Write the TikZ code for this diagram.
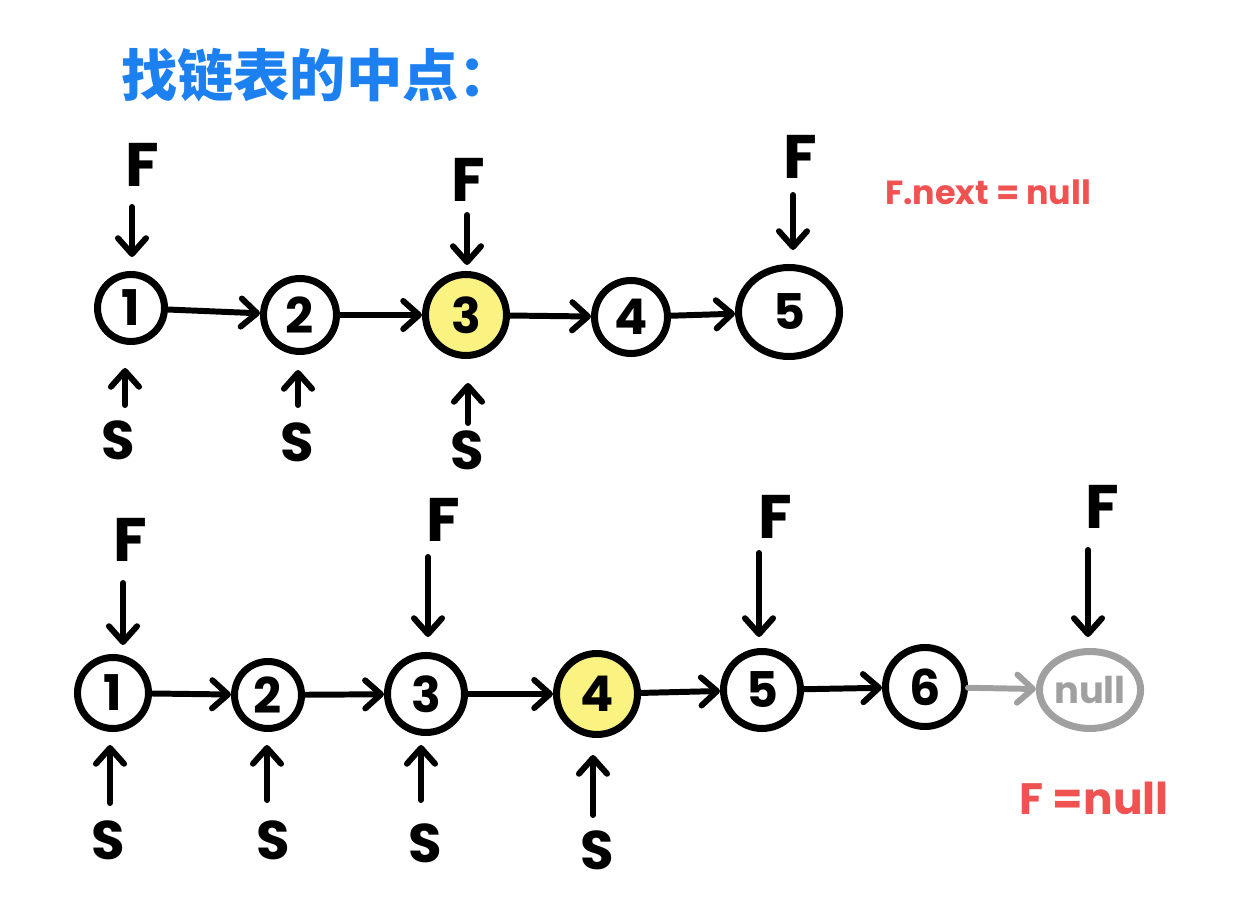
\documentclass[tikz,border=0pt]{standalone}
\usepackage{fontspec}
\setmainfont{Poppins}
\newfontfamily\cjk{Noto Sans CJK SC}
\usetikzlibrary{arrows.meta,shapes.geometric}
\definecolor{ttl}{RGB}{28,128,240}
\definecolor{rd}{RGB}{240,82,82}
\definecolor{hl}{RGB}{250,243,130}
\definecolor{gr}{RGB}{160,160,160}
\tikzset{
  nd/.style={circle,draw,line width=4pt,inner sep=0pt,font=\bfseries\fontsize{28}{28}\selectfont},
  ov/.style={ellipse,draw,line width=4pt,inner sep=0pt,font=\bfseries\fontsize{28}{28}\selectfont},
  hi/.style={fill=hl},
  lnk/.style={line width=3.4pt,line cap=round,-{Straight Barb[round,length=9pt,width=16pt,line width=3.4pt]}},
  ptr/.style={lnk,shorten >=#1},
  ptr/.default=0.24cm,
  flab/.style={font=\bfseries\fontsize{35}{35}\selectfont},
  slab/.style={font=\bfseries\fontsize{31}{31}\selectfont},
  note/.style={text=rd,font=\bfseries\fontsize{#1}{#1}\selectfont},
}
\begin{document}
\begin{tikzpicture}[x=0.02cm,y=-0.02cm]
\useasboundingbox (0,0) rectangle (1248,901);

% title
\node[text=ttl,font=\cjk\bfseries\fontsize{32}{32}\selectfont] (title) at (318,75) {找链表的中点：};

% ---------- row 1 ----------
\node[nd,minimum size=1.34cm] (a1) at (131,308) {1};
\node[nd,minimum size=1.46cm] (a2) at (300,315) {2};
\node[nd,hi,minimum size=1.62cm] (a3) at (466,315) {3};
\node[nd,minimum size=1.46cm] (a4) at (631,317) {4};
\node[ov,minimum width=2.02cm,minimum height=1.78cm] (a5) at (789,312) {5};

\draw[lnk] (a1) -- (a2);
\draw[lnk] (a2) -- (a3);
\draw[lnk] (a3) -- (a4);
\draw[lnk] (a4) -- (a5);

\node[flab] (fA1) at (142,165) {F};
\node[flab] (fA3) at (468,180) {F};
\node[flab] (fA5) at (800,157) {F};
\coordinate (pA1) at (132,207);
\coordinate (pA3) at (467,215);
\coordinate (pA5) at (793,195);
\draw[ptr=0.28cm] (pA1) -- (pA1 |- a1.north);
\draw[ptr=0.12cm] (pA3) -- (pA3 |- a3.north);
\draw[ptr=0.28cm] (pA5) -- (pA5 |- a5.north);

\node[slab] (sA1) at (118,440) {S};
\node[slab] (sA2) at (297,442) {S};
\node[slab] (sA3) at (467,450) {S};
\coordinate (qA1) at (125,405);
\coordinate (qA2) at (298,405);
\coordinate (qA3) at (468,423);
\draw[ptr=0.46cm] (qA1) -- (qA1 |- a1.south);
\draw[ptr=0.30cm] (qA2) -- (qA2 |- a2.south);
\draw[ptr=0.48cm] (qA3) -- (qA3 |- a3.south);

\node[note=19] (n1) at (988,192) {F.next = null};

% ---------- row 2 ----------
\node[nd,minimum size=1.42cm] (b1) at (113,693) {1};
\node[nd,minimum size=1.34cm] (b2) at (268,695) {2};
\node[nd,minimum size=1.54cm] (b3) at (426,694) {3};
\node[nd,hi,minimum size=1.62cm] (b4) at (597,694) {4};
\node[nd,minimum size=1.54cm] (b5) at (762,690) {5};
\node[nd,minimum size=1.58cm] (b6) at (925,687) {6};
\node[ov,draw=gr,text=gr,minimum width=1.78cm,minimum height=1.54cm,font=\bfseries\fontsize{21}{21}\selectfont] (bn) at (1090,690) {null};

\draw[lnk] (b1) -- (b2);
\draw[lnk] (b2) -- (b3);
\draw[lnk] (b3) -- (b4);
\draw[lnk] (b4) -- (b5);
\draw[lnk] (b5) -- (b6);
\draw[lnk,draw=gr] (b6) -- (bn);

\node[flab] (fB1) at (130,540) {F};
\node[flab] (fB3) at (443,520) {F};
\node[flab] (fB5) at (775,517) {F};
\node[flab] (fBn) at (1102,507) {F};
\coordinate (pB1) at (123,583);
\coordinate (pB3) at (428,557);
\coordinate (pB5) at (759,553);
\coordinate (pBn) at (1088,550);
\draw[ptr=0.18cm] (pB1) -- (pB1 |- b1.north);
\draw[ptr=0.30cm] (pB3) -- (pB3 |- b3.north);
\draw[ptr=0.22cm] (pB5) -- (pB5 |- b5.north);
\draw[ptr=0.22cm] (pBn) -- (pBn |- bn.north);

\node[slab] (sB1) at (108,840) {S};
\node[slab] (sB2) at (273,840) {S};
\node[slab] (sB3) at (425,843) {S};
\node[slab] (sB4) at (597,850) {S};
\coordinate (qB1) at (110,803);
\coordinate (qB2) at (267,800);
\coordinate (qB3) at (421,800);
\coordinate (qB4) at (593,815);
\draw[ptr=0.26cm] (qB1) -- (qB1 |- b1.south);
\draw[ptr=0.26cm] (qB2) -- (qB2 |- b2.south);
\draw[ptr=0.18cm] (qB3) -- (qB3 |- b3.south);
\draw[ptr=0.34cm] (qB4) -- (qB4 |- b4.south);

\node[note=25] (n2) at (1094,798) {F =null};
\end{tikzpicture}
\end{document}
